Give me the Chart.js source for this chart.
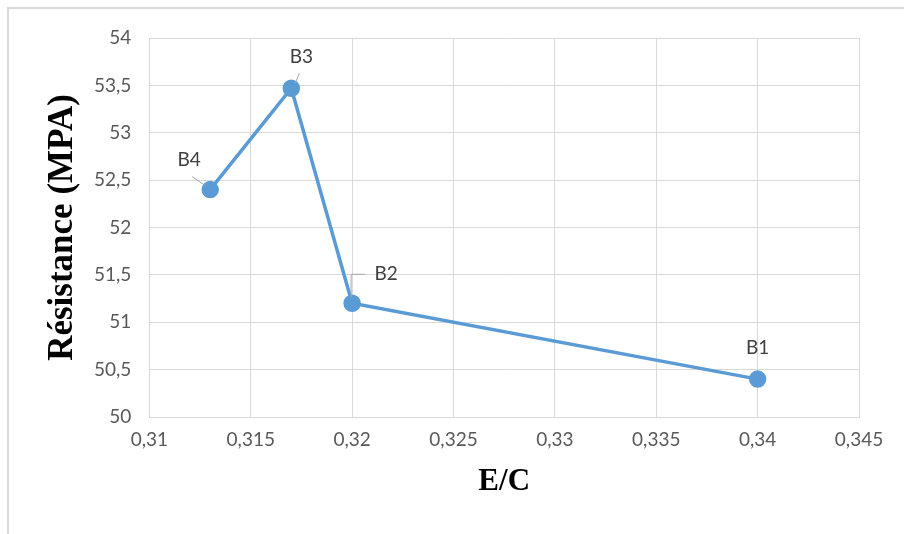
<!DOCTYPE html>
<html>
<head>
<meta charset="utf-8">
<script src="https://cdn.jsdelivr.net/npm/chart.js@4/dist/chart.umd.min.js"></script>
<style>
  html, body { margin: 0; padding: 0; background: #fff; }
  #wrap { position: relative; width: 904px; height: 534px; }
  #frame { position: absolute; left: 7px; top: 7px; right: -2px; bottom: -2px;
           border-left: 2px solid #d9d9d9; border-top: 2px solid #d9d9d9; }
  canvas { position: absolute; left: 0; top: 0; }
</style>
</head>
<body>
<div id="wrap">
  <div id="frame"></div>
  <canvas id="chart" width="904" height="534"></canvas>
</div>
<script>
// E/C ratio vs strength
const pointNames = ["B4", "B3", "B2", "B1"];
const ecValues = [0.313, 0.317, 0.32, 0.34];
const strengthValues = [52.4, 53.47, 51.2, 50.4];

// label offsets from each point (px) and whether a leader line is drawn
const labelOffsets = [[-21, -30], [10, -31], [34, -29], [0, -31]];
const leaderLines = [true, true, true, false];

const points = ecValues.map((x, i) => ({ x: x, y: strengthValues[i] }));

const fmt = v => String(Math.round(v * 1000) / 1000).replace(".", ",");

const labelPlugin = {
    id: "pointLabels",
    afterDatasetsDraw(chart) {
        const ctx = chart.ctx;
        const meta = chart.getDatasetMeta(0);
        ctx.save();
        ctx.font = "19px Lato, 'Open Sans', sans-serif";
        ctx.fillStyle = "#404040";
        ctx.textAlign = "center";
        ctx.textBaseline = "middle";
        meta.data.forEach((el, i) => {
            const off = labelOffsets[i];
            const lx = el.x + off[0];
            const ly = el.y + off[1];
            if (leaderLines[i]) {
                ctx.strokeStyle = "#a6a6a6";
                ctx.lineWidth = 1;
                ctx.beginPath();
                if (i === 0) {
                    ctx.moveTo(el.x - 5, el.y - 4);
                    ctx.lineTo(el.x - 18, el.y - 13);
                } else if (i === 1) {
                    ctx.moveTo(el.x + 4, el.y - 5);
                    ctx.lineTo(el.x + 8, el.y - 15);
                } else if (i === 2) {
                    ctx.moveTo(el.x - 1, el.y - 6);
                    ctx.lineTo(el.x - 1, el.y - 29);
                    ctx.lineTo(el.x + 13, el.y - 29);
                }
                ctx.stroke();
            }
            ctx.fillText(pointNames[i], lx, ly);
        });
        ctx.restore();
    }
};

function renderChart() {
    const ctx = document.getElementById("chart").getContext("2d");
    new Chart(ctx, {
        type: "scatter",
        data: {
            datasets: [{
                data: points,
                showLine: true,
                borderColor: "#5b9bd5",
                backgroundColor: "#5b9bd5",
                borderWidth: 3.5,
                pointRadius: 7,
                pointHoverRadius: 7,
                tension: 0
            }]
        },
        options: {
            responsive: false,
            animation: false,
            layout: { padding: { left: 45, right: 45, top: 38, bottom: 33 } },
            plugins: {
                legend: { display: false },
                tooltip: { enabled: false }
            },
            scales: {
                x: {
                    type: "linear",
                    min: 0.31,
                    max: 0.345,
                    ticks: {
                        stepSize: 0.005,
                        color: "#595959",
                        font: { family: "Lato, 'Open Sans', sans-serif", size: 19 },
                        padding: 11,
                        callback: v => fmt(v)
                    },
                    grid: { color: "#d9d9d9", lineWidth: 1, drawTicks: false },
                    border: { color: "#d9d9d9" },
                    title: {
                        display: true,
                        text: "E/C",
                        color: "#000",
                        font: { family: "'Liberation Serif', 'Times New Roman', serif", size: 31, weight: "bold" },
                        padding: { top: 2, bottom: 0 }
                    }
                },
                y: {
                    min: 50,
                    max: 54,
                    ticks: {
                        stepSize: 0.5,
                        color: "#595959",
                        font: { family: "Lato, 'Open Sans', sans-serif", size: 19 },
                        padding: 18,
                        callback: v => fmt(v)
                    },
                    grid: { color: "#d9d9d9", lineWidth: 1, drawTicks: false },
                    border: { color: "#d9d9d9" },
                    title: {
                        display: true,
                        text: "Résistance (MPA)",
                        color: "#000",
                        font: { family: "'Liberation Serif', 'Times New Roman', serif", size: 35, weight: "bold", lineHeight: 1 },
                        padding: { top: 0, bottom: -4 }
                    }
                }
            }
        },
        plugins: [labelPlugin]
    });
}

document.addEventListener("DOMContentLoaded", renderChart);
</script>
</body>
</html>
